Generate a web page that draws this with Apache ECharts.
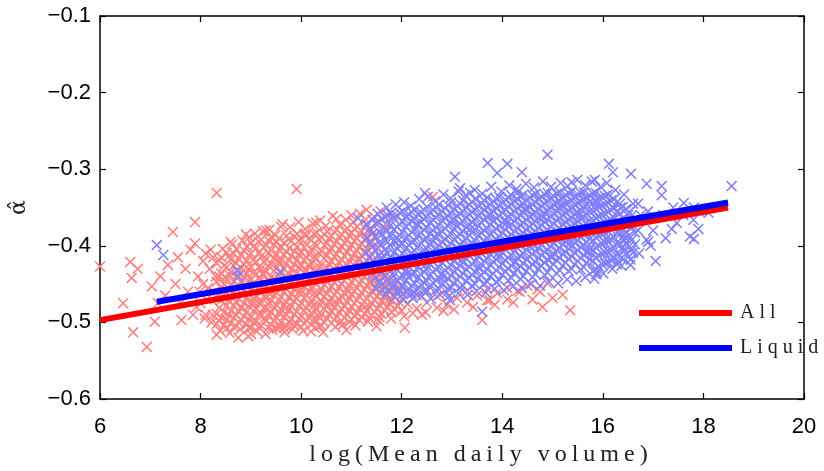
<!DOCTYPE html>
<html>
<head>
<meta charset="utf-8">
<script src="https://cdn.jsdelivr.net/npm/echarts@6/dist/echarts.min.js"></script>
<style>
html,body{margin:0;padding:0;background:#fff;}
#chart{width:824px;height:471px;}
</style>
</head>
<body>
<div id="chart"></div>
<script>
// ---------------- data ----------------
var xAxisTitle = 'log(Mean daily volume)';
var yAxisTitle = 'α\u0302';
var seriesNames = ['All', 'Liquid'];

// dense "All" cloud: [x, [y values]]
var allColumns = [
  [8.32, [-0.423,-0.447,-0.468,-0.489,-0.502]],
  [8.41, [-0.415,-0.436,-0.455,-0.471,-0.494]],
  [8.52, [-0.409,-0.428,-0.443,-0.461,-0.478,-0.497,-0.508]],
  [8.60, [-0.418,-0.434,-0.452,-0.466,-0.485,-0.501]],
  [8.71, [-0.404,-0.422,-0.439,-0.457,-0.473,-0.49,-0.505]],
  [8.80, [-0.412,-0.429,-0.447,-0.462,-0.481,-0.497]],
  [8.92, [-0.401,-0.419,-0.436,-0.452,-0.468,-0.486,-0.503]],
  [9.00, [-0.396,-0.41,-0.427,-0.444,-0.459,-0.476,-0.493,-0.507]],
  [9.11, [-0.403,-0.421,-0.437,-0.45,-0.465,-0.482,-0.499]],
  [9.20, [-0.392,-0.414,-0.43,-0.445,-0.461,-0.473,-0.489,-0.504]],
  [9.31, [-0.399,-0.417,-0.433,-0.454,-0.468,-0.484,-0.498]],
  [9.40, [-0.389,-0.406,-0.424,-0.441,-0.458,-0.471,-0.487,-0.503]],
  [9.52, [-0.395,-0.411,-0.428,-0.446,-0.462,-0.478,-0.494,-0.508]],
  [9.60, [-0.402,-0.419,-0.436,-0.451,-0.467,-0.483,-0.5]],
  [9.71, [-0.387,-0.408,-0.423,-0.44,-0.456,-0.474,-0.49,-0.505]],
  [9.80, [-0.394,-0.413,-0.431,-0.447,-0.463,-0.479,-0.496]],
  [9.92, [-0.384,-0.401,-0.418,-0.435,-0.452,-0.469,-0.486,-0.502]],
  [10.00, [-0.391,-0.409,-0.426,-0.443,-0.459,-0.475,-0.492,-0.506]],
  [10.11, [-0.386,-0.398,-0.415,-0.432,-0.448,-0.465,-0.481,-0.498]],
  [10.20, [-0.393,-0.405,-0.422,-0.439,-0.455,-0.471,-0.488,-0.503]],
  [10.31, [-0.383,-0.4,-0.417,-0.434,-0.45,-0.466,-0.483,-0.499]],
  [10.40, [-0.389,-0.407,-0.425,-0.441,-0.457,-0.473,-0.49,-0.504]],
  [10.52, [-0.381,-0.396,-0.412,-0.429,-0.446,-0.462,-0.478,-0.495]],
  [10.60, [-0.387,-0.403,-0.42,-0.436,-0.453,-0.469,-0.486,-0.501]],
  [10.71, [-0.379,-0.394,-0.411,-0.427,-0.444,-0.46,-0.476,-0.492]],
  [10.80, [-0.385,-0.401,-0.418,-0.433,-0.449,-0.465,-0.482,-0.498]],
  [10.92, [-0.377,-0.392,-0.408,-0.425,-0.441,-0.457,-0.474,-0.49]],
  [11.00, [-0.383,-0.399,-0.415,-0.431,-0.447,-0.463,-0.479,-0.496]],
  [11.11, [-0.375,-0.39,-0.406,-0.422,-0.438,-0.455,-0.471,-0.488]],
  [11.20, [-0.381,-0.397,-0.413,-0.429,-0.445,-0.461,-0.477,-0.493]],
  [11.31, [-0.372,-0.389,-0.404,-0.42,-0.436,-0.452,-0.469,-0.485]],
  [11.40, [-0.379,-0.395,-0.411,-0.427,-0.443,-0.459,-0.475,-0.491]],
  [11.52, [-0.37,-0.402,-0.434,-0.45,-0.466,-0.482]],
  [11.60, [-0.384,-0.418,-0.441,-0.457,-0.473,-0.489]],
  [11.72, [-0.448,-0.464,-0.48]],
  [11.80, [-0.455,-0.471,-0.487]],
  [11.92, [-0.446,-0.462,-0.478]],
  [12.00, [-0.453,-0.469,-0.485]],
  [12.12, [-0.459,-0.476]],
  [12.30, [-0.465,-0.482]],
  [12.50, [-0.458,-0.474]],
  [12.70, [-0.466,-0.481]],
  [12.90, [-0.461,-0.477]],
  [13.10, [-0.468]],
  [13.30, [-0.459,-0.474]],
  [13.50, [-0.465]],
  [13.70, [-0.456,-0.471]],
  [13.90, [-0.462]],
  [14.10, [-0.455,-0.47]],
  [14.30, [-0.459]],
  [14.50, [-0.452]],
  [14.70, [-0.457]],
  [14.90, [-0.449]]
];

// dense "All" cloud, in-between columns: [x, [y values]]
var allColumnsB = [
  [8.37, [-0.419,-0.44,-0.462,-0.481,-0.498]],
  [8.47, [-0.426,-0.45,-0.465,-0.486,-0.503]],
  [8.56, [-0.414,-0.437,-0.456,-0.472,-0.49]],
  [8.66, [-0.41,-0.426,-0.447,-0.461,-0.478,-0.494,-0.506]],
  [8.76, [-0.417,-0.433,-0.452,-0.469,-0.486,-0.5]],
  [8.86, [-0.406,-0.424,-0.443,-0.458,-0.475,-0.492]],
  [8.96, [-0.413,-0.431,-0.446,-0.463,-0.479,-0.496,-0.507]],
  [9.05, [-0.401,-0.418,-0.435,-0.449,-0.469,-0.485,-0.5]],
  [9.16, [-0.395,-0.409,-0.428,-0.442,-0.456,-0.474,-0.49,-0.506]],
  [9.26, [-0.402,-0.421,-0.437,-0.452,-0.466,-0.481,-0.495]],
  [9.35, [-0.393,-0.41,-0.426,-0.446,-0.46,-0.477,-0.492,-0.507]],
  [9.46, [-0.398,-0.416,-0.433,-0.449,-0.464,-0.48,-0.497]],
  [9.56, [-0.39,-0.405,-0.422,-0.438,-0.455,-0.471,-0.488,-0.503]],
  [9.66, [-0.396,-0.412,-0.43,-0.444,-0.46,-0.476,-0.492,-0.507]],
  [9.76, [-0.391,-0.403,-0.419,-0.437,-0.451,-0.468,-0.484,-0.5]],
  [9.86, [-0.388,-0.407,-0.424,-0.44,-0.457,-0.472,-0.489,-0.504]],
  [9.96, [-0.393,-0.411,-0.428,-0.445,-0.46,-0.479,-0.495]],
  [10.06, [-0.385,-0.402,-0.419,-0.436,-0.452,-0.468,-0.484,-0.501]],
  [10.16, [-0.39,-0.411,-0.427,-0.443,-0.46,-0.477,-0.494]],
  [10.26, [-0.384,-0.397,-0.414,-0.43,-0.447,-0.462,-0.478,-0.496]],
  [10.36, [-0.392,-0.41,-0.428,-0.445,-0.461,-0.477,-0.493,-0.505]],
  [10.46, [-0.385,-0.399,-0.416,-0.433,-0.451,-0.466,-0.482,-0.5]],
  [10.56, [-0.39,-0.407,-0.424,-0.44,-0.457,-0.474,-0.49]],
  [10.66, [-0.382,-0.398,-0.414,-0.431,-0.448,-0.464,-0.481,-0.497]],
  [10.76, [-0.388,-0.405,-0.422,-0.438,-0.454,-0.47,-0.487,-0.501]],
  [10.86, [-0.381,-0.396,-0.413,-0.43,-0.446,-0.462,-0.479,-0.494]],
  [10.96, [-0.386,-0.403,-0.42,-0.436,-0.452,-0.468,-0.484,-0.499]],
  [11.06, [-0.378,-0.394,-0.41,-0.426,-0.443,-0.459,-0.475,-0.492]],
  [11.16, [-0.384,-0.401,-0.417,-0.433,-0.449,-0.466,-0.482,-0.497]],
  [11.26, [-0.376,-0.392,-0.409,-0.425,-0.44,-0.457,-0.473,-0.489]],
  [11.36, [-0.382,-0.399,-0.416,-0.432,-0.448,-0.464,-0.48,-0.494]],
  [11.46, [-0.388,-0.421,-0.438,-0.455,-0.47,-0.486]],
  [11.56, [-0.446,-0.462,-0.478,-0.493]],
  [11.66, [-0.451,-0.467,-0.484]],
  [11.76, [-0.44,-0.458,-0.475]],
  [11.86, [-0.449,-0.466,-0.483]],
  [11.96, [-0.457,-0.474]]
];

// scattered "All" points: [x, y]
var allScattered = [
  [6.0,-0.427],[6.6,-0.421],[6.63,-0.442],[6.46,-0.475],[6.66,-0.513],[6.93,-0.532],
  [7.03,-0.453],[7.09,-0.499],[7.45,-0.382],[7.89,-0.369],[7.89,-0.397],[8.32,-0.331],
  [9.14,-0.388],[7.62,-0.497],[8.32,-0.516],[9.91,-0.326],[9.58,-0.507],[12.06,-0.507],
  [11.3,-0.353],[12.62,-0.336],[13.6,-0.497],[14.8,-0.48],[15.0,-0.468],[14.75,-0.46],
  [13.75,-0.471],[14.35,-0.46],[15.2,-0.464],[15.35,-0.484],
  [7.2,-0.44],[7.3,-0.465],[7.35,-0.425],[7.5,-0.45],[7.55,-0.415],[7.7,-0.43],
  [7.75,-0.46],[7.8,-0.405],[7.95,-0.44],[8.0,-0.475],[8.05,-0.42],[8.1,-0.49],
  [8.15,-0.455],[8.2,-0.405],[6.75,-0.43],[7.15,-0.475],[7.6,-0.475],[7.85,-0.49],
  [8.6,-0.395],[8.9,-0.385],[9.3,-0.38],[9.6,-0.375],[10.3,-0.37],[10.7,-0.365],
  [11.0,-0.36],[9.0,-0.515],[10.2,-0.512],[10.9,-0.51],[11.5,-0.505],[12.4,-0.49],
  [8.75,-0.52]
];

// ragged edges and irregular inner "All" points: [x, y]
var allEdges = [
  [8.44,-0.404],[8.63,-0.398],[8.83,-0.393],[8.97,-0.389],[9.08,-0.384],[9.24,-0.381],
  [9.37,-0.379],[9.49,-0.386],[9.63,-0.372],[9.78,-0.376],[9.95,-0.369],[10.08,-0.378],
  [10.23,-0.371],[10.38,-0.367],[10.49,-0.374],[10.63,-0.361],[10.77,-0.372],[10.89,-0.366],
  [11.04,-0.369],[11.17,-0.358],[11.28,-0.366],[11.45,-0.362],[11.58,-0.355],[11.68,-0.372],
  [11.83,-0.36],
  [8.39,-0.511],[8.58,-0.514],[8.79,-0.509],[8.95,-0.518],[9.12,-0.512],[9.29,-0.515],
  [9.43,-0.51],[9.67,-0.513],[9.83,-0.509],[10.04,-0.511],[10.27,-0.507],[10.44,-0.513],
  [10.68,-0.506],[10.83,-0.503],[11.08,-0.504],[11.33,-0.499],[11.55,-0.498],[11.79,-0.495],
  [12.05,-0.492],[12.22,-0.488],[12.48,-0.487],[12.83,-0.485],[13.04,-0.483],[13.42,-0.48],
  [13.85,-0.477],[14.22,-0.474],[14.6,-0.47],
  [8.48,-0.441],[8.69,-0.466],[8.91,-0.428],[9.07,-0.475],[9.23,-0.437],[9.38,-0.463],
  [9.54,-0.419],[9.69,-0.482],[9.84,-0.441],[9.99,-0.463],[10.14,-0.425],[10.33,-0.49],
  [10.47,-0.44],[10.62,-0.476],[10.79,-0.43],[10.94,-0.46],[11.13,-0.418],[11.27,-0.48],
  [11.43,-0.45],[11.62,-0.435],[11.75,-0.47],[11.9,-0.455],
  [8.05,-0.45],[8.12,-0.47],[8.18,-0.43],[8.24,-0.49],[8.27,-0.46],[8.22,-0.5],
  [8.08,-0.495],[7.98,-0.46],[8.3,-0.44],[7.92,-0.48],[8.25,-0.415],[8.1,-0.41]
];

// dense "Liquid" cloud: [x, [y values]]
var liquidColumns = [
  [11.30, [-0.372,-0.39,-0.409,-0.428]],
  [11.42, [-0.366,-0.384,-0.401,-0.419,-0.437]],
  [11.55, [-0.369,-0.381,-0.396,-0.413,-0.43,-0.448]],
  [11.66, [-0.362,-0.377,-0.392,-0.405,-0.421,-0.44,-0.455]],
  [11.78, [-0.358,-0.373,-0.387,-0.4,-0.416,-0.433,-0.449]],
  [11.90, [-0.361,-0.375,-0.389,-0.403,-0.418,-0.431,-0.445,-0.459]],
  [12.02, [-0.355,-0.368,-0.382,-0.397,-0.41,-0.424,-0.438,-0.452,-0.463]],
  [12.14, [-0.359,-0.371,-0.386,-0.399,-0.413,-0.428,-0.441,-0.456]],
  [12.26, [-0.352,-0.365,-0.379,-0.393,-0.406,-0.42,-0.435,-0.449,-0.461]],
  [12.38, [-0.356,-0.369,-0.383,-0.396,-0.409,-0.423,-0.437,-0.451]],
  [12.50, [-0.349,-0.362,-0.376,-0.39,-0.404,-0.417,-0.431,-0.446,-0.46]],
  [12.62, [-0.353,-0.366,-0.38,-0.394,-0.407,-0.421,-0.434,-0.448]],
  [12.74, [-0.346,-0.359,-0.373,-0.386,-0.4,-0.414,-0.428,-0.442,-0.457]],
  [12.86, [-0.351,-0.364,-0.377,-0.391,-0.405,-0.418,-0.432,-0.446]],
  [12.98, [-0.343,-0.357,-0.37,-0.384,-0.397,-0.411,-0.425,-0.439,-0.455]],
  [13.10, [-0.348,-0.361,-0.375,-0.388,-0.402,-0.416,-0.43,-0.444]],
  [13.22, [-0.341,-0.355,-0.368,-0.381,-0.395,-0.409,-0.422,-0.436,-0.452]],
  [13.34, [-0.346,-0.359,-0.372,-0.386,-0.399,-0.413,-0.427,-0.441]],
  [13.46, [-0.339,-0.353,-0.366,-0.379,-0.393,-0.406,-0.42,-0.434,-0.45]],
  [13.58, [-0.344,-0.357,-0.37,-0.383,-0.397,-0.41,-0.424,-0.438]],
  [13.70, [-0.337,-0.35,-0.363,-0.377,-0.39,-0.404,-0.417,-0.431,-0.447]],
  [13.82, [-0.342,-0.355,-0.368,-0.381,-0.394,-0.408,-0.421,-0.436]],
  [13.94, [-0.336,-0.348,-0.361,-0.374,-0.388,-0.401,-0.415,-0.428,-0.445]],
  [14.06, [-0.34,-0.353,-0.366,-0.379,-0.392,-0.405,-0.419,-0.433]],
  [14.18, [-0.334,-0.346,-0.359,-0.372,-0.385,-0.399,-0.412,-0.426,-0.442]],
  [14.30, [-0.339,-0.351,-0.364,-0.377,-0.39,-0.403,-0.416,-0.43]],
  [14.42, [-0.333,-0.345,-0.357,-0.37,-0.383,-0.396,-0.41,-0.423,-0.44]],
  [14.54, [-0.337,-0.35,-0.362,-0.375,-0.388,-0.401,-0.414,-0.428]],
  [14.66, [-0.332,-0.343,-0.356,-0.368,-0.381,-0.394,-0.407,-0.421,-0.437]],
  [14.78, [-0.336,-0.348,-0.36,-0.373,-0.386,-0.399,-0.412,-0.426]],
  [14.90, [-0.331,-0.342,-0.354,-0.366,-0.379,-0.392,-0.405,-0.418,-0.435]],
  [15.02, [-0.335,-0.346,-0.358,-0.371,-0.384,-0.397,-0.41,-0.424]],
  [15.14, [-0.33,-0.341,-0.352,-0.364,-0.377,-0.39,-0.403,-0.416,-0.432]],
  [15.26, [-0.334,-0.345,-0.357,-0.369,-0.382,-0.395,-0.408,-0.422]],
  [15.38, [-0.329,-0.34,-0.351,-0.363,-0.375,-0.388,-0.401,-0.414,-0.43]],
  [15.50, [-0.333,-0.344,-0.356,-0.368,-0.38,-0.393,-0.406,-0.42]],
  [15.62, [-0.33,-0.339,-0.35,-0.362,-0.374,-0.386,-0.399,-0.412,-0.428]],
  [15.74, [-0.334,-0.343,-0.355,-0.367,-0.379,-0.391,-0.404,-0.418]],
  [15.86, [-0.331,-0.341,-0.352,-0.364,-0.376,-0.389,-0.402,-0.415,-0.43]],
  [15.98, [-0.336,-0.347,-0.359,-0.371,-0.384,-0.397,-0.41,-0.424]],
  [16.10, [-0.333,-0.344,-0.356,-0.368,-0.381,-0.394,-0.407,-0.421]],
  [16.22, [-0.339,-0.351,-0.363,-0.376,-0.389,-0.403,-0.417]],
  [16.34, [-0.345,-0.358,-0.371,-0.385,-0.399,-0.413]],
  [16.46, [-0.352,-0.367,-0.382,-0.396,-0.41]],
  [16.58, [-0.36,-0.376,-0.392,-0.405]]
];

// dense "Liquid" cloud, in-between columns: [x, [y values]]
var liquidColumnsB = [
  [11.36, [-0.378,-0.396,-0.415,-0.433]],
  [11.48, [-0.371,-0.388,-0.406,-0.424,-0.442]],
  [11.60, [-0.365,-0.385,-0.399,-0.417,-0.434,-0.451]],
  [11.72, [-0.36,-0.38,-0.395,-0.41,-0.427,-0.444,-0.458]],
  [11.84, [-0.364,-0.379,-0.394,-0.409,-0.424,-0.439,-0.453]],
  [11.96, [-0.357,-0.372,-0.386,-0.4,-0.414,-0.427,-0.442,-0.457]],
  [12.08, [-0.362,-0.375,-0.39,-0.404,-0.417,-0.432,-0.446,-0.46]],
  [12.20, [-0.356,-0.368,-0.382,-0.395,-0.409,-0.423,-0.437,-0.452,-0.463]],
  [12.32, [-0.359,-0.373,-0.387,-0.401,-0.414,-0.428,-0.442,-0.456]],
  [12.44, [-0.353,-0.365,-0.379,-0.392,-0.405,-0.419,-0.434,-0.448,-0.459]],
  [12.56, [-0.357,-0.37,-0.384,-0.398,-0.41,-0.424,-0.439,-0.454]],
  [12.68, [-0.35,-0.363,-0.376,-0.39,-0.403,-0.417,-0.431,-0.445,-0.458]],
  [12.80, [-0.355,-0.367,-0.381,-0.395,-0.408,-0.422,-0.436,-0.45]],
  [12.92, [-0.347,-0.361,-0.374,-0.388,-0.401,-0.415,-0.429,-0.443,-0.456]],
  [13.04, [-0.352,-0.365,-0.378,-0.392,-0.406,-0.42,-0.434,-0.449]],
  [13.16, [-0.345,-0.358,-0.371,-0.385,-0.398,-0.412,-0.426,-0.44,-0.454]],
  [13.28, [-0.35,-0.363,-0.376,-0.39,-0.403,-0.417,-0.431,-0.446]],
  [13.40, [-0.343,-0.356,-0.369,-0.383,-0.396,-0.41,-0.424,-0.438,-0.452]],
  [13.52, [-0.348,-0.361,-0.374,-0.387,-0.401,-0.414,-0.428,-0.443]],
  [13.64, [-0.341,-0.353,-0.366,-0.38,-0.393,-0.407,-0.42,-0.434,-0.449]],
  [13.76, [-0.346,-0.359,-0.372,-0.385,-0.398,-0.411,-0.425,-0.44]],
  [13.88, [-0.339,-0.351,-0.364,-0.378,-0.391,-0.404,-0.418,-0.432,-0.447]],
  [14.00, [-0.344,-0.357,-0.37,-0.383,-0.396,-0.409,-0.423,-0.438]],
  [14.12, [-0.337,-0.349,-0.362,-0.375,-0.389,-0.402,-0.416,-0.43,-0.445]],
  [14.24, [-0.342,-0.355,-0.368,-0.381,-0.394,-0.407,-0.421,-0.436]],
  [14.36, [-0.336,-0.348,-0.36,-0.373,-0.386,-0.4,-0.413,-0.427,-0.443]],
  [14.48, [-0.341,-0.353,-0.366,-0.379,-0.392,-0.405,-0.418,-0.433]],
  [14.60, [-0.334,-0.346,-0.359,-0.371,-0.384,-0.397,-0.411,-0.424,-0.441]],
  [14.72, [-0.339,-0.352,-0.364,-0.377,-0.39,-0.403,-0.416,-0.43]],
  [14.84, [-0.333,-0.345,-0.357,-0.369,-0.382,-0.395,-0.408,-0.422,-0.438]],
  [14.96, [-0.338,-0.35,-0.362,-0.375,-0.388,-0.401,-0.414,-0.428]],
  [15.08, [-0.332,-0.344,-0.355,-0.367,-0.38,-0.393,-0.406,-0.419,-0.436]],
  [15.20, [-0.337,-0.348,-0.36,-0.372,-0.385,-0.398,-0.411,-0.426]],
  [15.32, [-0.331,-0.343,-0.354,-0.366,-0.378,-0.391,-0.404,-0.417,-0.433]],
  [15.44, [-0.336,-0.347,-0.359,-0.371,-0.383,-0.396,-0.409,-0.424]],
  [15.56, [-0.331,-0.342,-0.353,-0.365,-0.377,-0.389,-0.402,-0.416,-0.431]],
  [15.68, [-0.337,-0.346,-0.358,-0.37,-0.382,-0.395,-0.408,-0.422]],
  [15.80, [-0.332,-0.344,-0.355,-0.367,-0.38,-0.393,-0.406,-0.42,-0.433]],
  [15.92, [-0.338,-0.349,-0.361,-0.374,-0.387,-0.4,-0.413,-0.427]],
  [16.04, [-0.335,-0.346,-0.358,-0.37,-0.383,-0.396,-0.409,-0.423]],
  [16.16, [-0.341,-0.353,-0.366,-0.379,-0.392,-0.406,-0.419]],
  [16.28, [-0.343,-0.356,-0.369,-0.382,-0.396,-0.41,-0.424]],
  [16.40, [-0.349,-0.364,-0.378,-0.392,-0.406,-0.418]],
  [16.52, [-0.356,-0.372,-0.387,-0.401,-0.414]],
  [16.64, [-0.366,-0.383,-0.398]]
];

// scattered "Liquid" points: [x, y]
var liquidScattered = [
  [7.13,-0.399],[7.26,-0.412],[8.72,-0.432],[8.75,-0.44],[9.58,-0.434],[11.13,-0.364],
  [12.46,-0.331],[14.9,-0.281],[13.71,-0.292],[13.9,-0.305],[14.1,-0.293],[14.39,-0.304],
  [13.06,-0.31],[13.16,-0.325],[13.36,-0.331],[14.31,-0.33],[15.38,-0.317],[15.84,-0.314],
  [16.12,-0.293],[16.2,-0.304],[15.88,-0.435],[12.96,-0.471],[13.6,-0.486],[18.56,-0.322],
  [16.56,-0.306],[16.87,-0.319],[17.17,-0.322],[17.17,-0.334],[17.61,-0.344],[17.81,-0.35],
  [17.37,-0.378],[17.81,-0.391],[17.9,-0.378],[18.1,-0.357],[16.9,-0.395],[16.6,-0.409],
  [16.4,-0.402],[17.47,-0.37],[17.8,-0.366],[17.73,-0.388],[16.87,-0.392],
  [16.35,-0.35],[16.5,-0.36],[16.7,-0.345],[16.9,-0.355],[17.0,-0.38],[17.2,-0.36],
  [17.4,-0.35],[17.6,-0.36],[17.9,-0.355],[16.45,-0.39],[16.7,-0.38],[16.95,-0.4],
  [17.25,-0.39],[16.3,-0.42],[16.55,-0.425],[17.05,-0.42],[15.87,-0.437]
];

// ragged edges and irregular inner "Liquid" points: [x, y]
var liquidEdges = [
  [11.52,-0.358],[11.7,-0.35],[11.88,-0.346],[12.05,-0.343],[12.18,-0.348],[12.35,-0.339],
  [12.52,-0.336],[12.67,-0.342],[12.83,-0.333],[12.97,-0.338],[13.13,-0.329],[13.27,-0.334],
  [13.45,-0.327],[13.6,-0.332],[13.78,-0.323],[13.98,-0.329],[14.14,-0.321],[14.28,-0.326],
  [14.47,-0.319],[14.63,-0.324],[14.81,-0.316],[14.97,-0.323],[15.16,-0.318],[15.3,-0.322],
  [15.49,-0.314],[15.65,-0.321],[15.78,-0.316],[15.95,-0.323],[16.08,-0.318],[16.25,-0.327],
  [16.42,-0.333],[16.6,-0.345],[16.75,-0.36],
  [11.5,-0.456],[11.68,-0.463],[11.86,-0.467],[12.04,-0.47],[12.22,-0.468],[12.4,-0.466],
  [12.58,-0.469],[12.76,-0.464],[12.94,-0.466],[13.13,-0.462],[13.31,-0.464],[13.49,-0.459],
  [13.67,-0.461],[13.85,-0.456],[14.03,-0.458],[14.21,-0.453],[14.39,-0.455],[14.57,-0.45],
  [14.75,-0.452],[14.93,-0.447],[15.11,-0.449],[15.29,-0.444],[15.47,-0.446],[15.65,-0.441],
  [15.83,-0.443],[16.01,-0.436],[16.19,-0.43],[16.37,-0.426],[16.55,-0.418],[16.72,-0.41],
  [11.64,-0.412],[11.93,-0.393],[12.11,-0.436],[12.29,-0.372],[12.47,-0.425],[12.65,-0.388],
  [12.83,-0.44],[13.01,-0.366],[13.19,-0.419],[13.37,-0.378],[13.55,-0.43],[13.73,-0.359],
  [13.91,-0.41],[14.09,-0.37],[14.27,-0.421],[14.45,-0.352],[14.63,-0.4],[14.81,-0.363],
  [14.99,-0.415],[15.17,-0.347],[15.35,-0.396],[15.53,-0.36],[15.71,-0.408],[15.89,-0.345],
  [16.07,-0.39],[16.25,-0.37],[16.43,-0.385]
];

// fitted lines
var allLineX = [6.0, 18.49];
var allLineY = [-0.497, -0.350];
var liquidLineX = [7.13, 18.49];
var liquidLineY = [-0.473, -0.3435];

// axes
var xMin = 6, xMax = 20, xStep = 2;
var yMin = -0.6, yMax = -0.1, yStep = 0.1;

// ---------------- letter-spaced serif text (as in the reference) ----------------
(function () {
  var P = CanvasRenderingContext2D.prototype;
  if (!('letterSpacing' in P)) return;
  var orig = P.fillText;
  P.fillText = function (t, x, y, m) {
    var f = this.font || '';
    var spaced = f.indexOf('Liberation Serif') >= 0;
    var args = arguments;
    if (spaced) {
      this.save();
      this.letterSpacing = '5px';
      this.font = '10px sans-serif';
      this.font = f;
      var r = orig.apply(this, args);
      this.restore();
      return r;
    }
    if (this.letterSpacing && this.letterSpacing !== '0px') {
      this.letterSpacing = '0px';
      this.font = '10px sans-serif';
      this.font = f;
    }
    return orig.apply(this, args);
  };
})();

// ---------------- build ----------------
function fromColumns(cols) {
  var out = [];
  cols.forEach(function (c) { c[1].forEach(function (y) { out.push([c[0], y]); }); });
  return out;
}
function zipXY(xs, ys) { return xs.map(function (x, i) { return [x, ys[i]]; }); }

var allPoints = allScattered.concat(allEdges, fromColumns(allColumns), fromColumns(allColumnsB));
var liquidPoints = liquidScattered.concat(liquidEdges, fromColumns(liquidColumns), fromColumns(liquidColumnsB));

var crossPath = 'path://M0,1.2L1.2,0L12,10.8L10.8,12Z M10.8,0L12,1.2L1.2,12L0,10.8Z';
var tickFont = { fontFamily: 'Liberation Sans', fontSize: 22, color: '#000' };
var axisLineStyle = { color: '#000', width: 1.5 };
var tickStyle = { show: true, inside: true, length: 6, lineStyle: { color: '#000', width: 1.2 } };

var chart = echarts.init(document.getElementById('chart'), null, { renderer: 'canvas' });
chart.setOption({
  animation: false,
  backgroundColor: '#fff',
  grid: { left: 100, right: 20, top: 16, bottom: 72, containLabel: false, outerBoundsMode: 'none' },
  legend: {
    data: seriesNames,
    orient: 'vertical',
    left: 639, top: 303, padding: 0,
    icon: 'rect',
    itemWidth: 93, itemHeight: 6, itemGap: 15,
    textStyle: { fontFamily: 'Liberation Serif', fontSize: 20, color: '#222', padding: [0, 0, 0, 3] },
    selectedMode: false
  },
  xAxis: [{
    type: 'value', min: xMin, max: xMax, interval: xStep, position: 'bottom',
    name: xAxisTitle, nameLocation: 'middle', nameGap: 43,
    nameTextStyle: { fontFamily: 'Liberation Serif', fontSize: 24, color: '#222', padding: [0, 0, 0, 58] },
    axisLine: { show: true, onZero: false, lineStyle: axisLineStyle },
    axisTick: tickStyle,
    axisLabel: Object.assign({ margin: 17 }, tickFont),
    splitLine: { show: false }
  }, {
    type: 'value', min: xMin, max: xMax, interval: xStep, position: 'top',
    axisLine: { show: true, onZero: false, lineStyle: axisLineStyle },
    axisTick: tickStyle,
    axisLabel: { show: false },
    splitLine: { show: false }
  }],
  yAxis: [{
    type: 'value', min: yMin, max: yMax, interval: yStep, position: 'left',
    name: yAxisTitle, nameLocation: 'middle', nameGap: 70, nameRotate: 90,
    nameTextStyle: { fontFamily: 'DejaVu Serif', fontSize: 22, color: '#222' },
    axisLine: { show: true, onZero: false, lineStyle: axisLineStyle },
    axisTick: tickStyle,
    axisLabel: Object.assign({
      margin: 9,
      formatter: function (v) { return v.toFixed(1).replace('-', '\u2212'); }
    }, tickFont),
    splitLine: { show: false }
  }, {
    type: 'value', min: yMin, max: yMax, interval: yStep, position: 'right',
    axisLine: { show: true, onZero: false, lineStyle: axisLineStyle },
    axisTick: tickStyle,
    axisLabel: { show: false },
    splitLine: { show: false }
  }],
  series: [{
    name: 'All points', type: 'scatter', data: allPoints,
    symbol: crossPath, symbolSize: 11,
    itemStyle: { color: '#FF7F7F', opacity: 1 },
    silent: true, z: 2, large: false
  }, {
    name: 'Liquid points', type: 'scatter', data: liquidPoints,
    symbol: crossPath, symbolSize: 11,
    itemStyle: { color: '#7F7FFF', opacity: 1 },
    silent: true, z: 3, large: false
  }, {
    name: seriesNames[0], type: 'line', data: zipXY(allLineX, allLineY),
    showSymbol: false, symbol: 'none',
    lineStyle: { color: '#FF0000', width: 6 }, itemStyle: { color: '#FF0000' },
    silent: true, z: 4
  }, {
    name: seriesNames[1], type: 'line', data: zipXY(liquidLineX, liquidLineY),
    showSymbol: false, symbol: 'none',
    lineStyle: { color: '#0000FF', width: 6 }, itemStyle: { color: '#0000FF' },
    silent: true, z: 5
  }]
});
</script>
</body>
</html>
